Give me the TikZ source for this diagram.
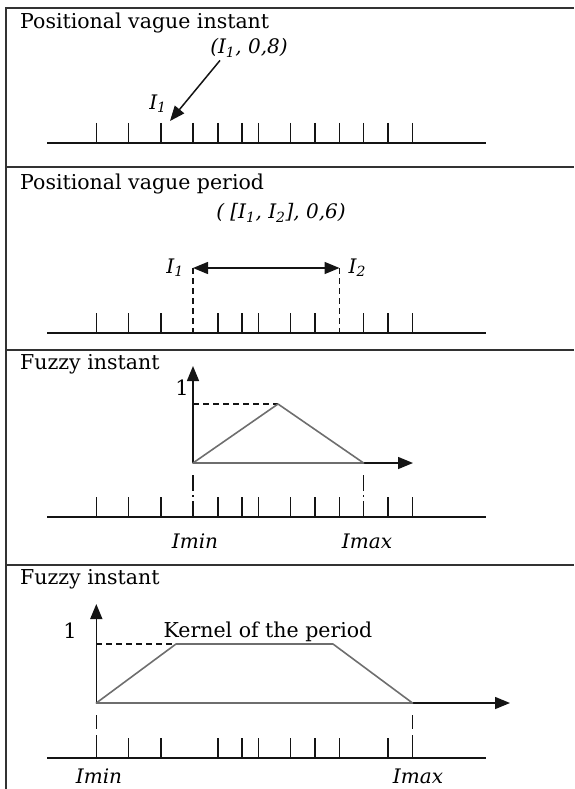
\documentclass[tikz,border=0pt]{standalone}
\usepackage{fontspec}
\setmainfont{DejaVu Serif}
\usepackage{tikz}
\usetikzlibrary{positioning,arrows.meta,calc}
\definecolor{inkline}{RGB}{20,20,20}
\definecolor{fuzzline}{RGB}{110,110,110}
\definecolor{framecol}{RGB}{50,50,50}

\begin{document}
\begin{tikzpicture}[x=1pt, y=-1pt,
  title/.style={anchor=base west, inner sep=0pt, font=\fontsize{20.5}{23}\selectfont},
  lbl/.style={inner sep=1pt, font=\fontsize{20}{22}\selectfont\itshape},
  one/.style={inner sep=0pt, font=\fontsize{21}{23}\selectfont},
  axisln/.style={inkline, line width=1.6pt},
  tickln/.style={inkline, line width=1.6pt},
  dashln/.style={inkline, line width=1.5pt, dash pattern=on 6pt off 4pt},
  fuzz/.style={fuzzline, line width=1.6pt, line join=round},
  ar/.style={-{Triangle[length=15pt, width=12pt]}, inkline, line width=1.5pt},
  dar/.style={{Triangle[length=15pt, width=12pt]}-{Triangle[length=15pt, width=12pt]}, inkline, line width=1.5pt},
  sep/.style={framecol, line width=2pt},
]
\useasboundingbox (0,0) rectangle (574,789);

% frame and panel separators
\coordinate (tl) at (6,8);
\coordinate (tr) at (574,8);
\coordinate (bl) at (6,789);
\draw[sep] (bl) -- (tl) -- (tr);
\foreach \sy [count=\k] in {167,350,565} {
  \coordinate (s\k l) at (6,\sy);
  \coordinate (s\k r) at (574,\sy);
  \draw[sep] (s\k l) -- (s\k r);
}

% ---- positional vague instant
\node[title] (t1) at (20,29) {Positional vague instant};
\coordinate (a1l) at (47,143);
\coordinate (a1r) at (486,143);
\draw[axisln] (a1l) -- (a1r);
\foreach \tx in {96.5,128.5,161,193,218,242,258.3,290.5,315,339.5,363.6,388,412.5}
  \draw[tickln] (\tx,123) -- (\tx,143);
\node[lbl] (v1) at (249,48) {(I\textsubscript{1}, 0,8)};
\node[lbl] (i1) at (158,104) {I\textsubscript{1}};
\coordinate (i1tip) at (170,121);
\draw[ar] ($(v1.south)+(-29,2)$) -- (i1tip);

% ---- positional vague period
\node[title] (t2) at (20,189) {Positional vague period};
\coordinate (a2l) at (47,333);
\coordinate (a2r) at (486,333);
\draw[axisln] (a2l) -- (a2r);
\foreach \tx in {96.5,128.5,161,218,242,258.3,290.5,315,363.6,388,412.5}
  \draw[tickln] (\tx,313) -- (\tx,333);
\node[lbl] (v2) at (281,213) {( [I\textsubscript{1}, I\textsubscript{2}], 0,6)};
\coordinate (p1) at (193,268);
\coordinate (p2) at (339.5,268);
\coordinate (p1b) at (193,333);
\coordinate (p2b) at (339.5,333);
\draw[dar] (p1) -- (p2);
\draw[dashln] (p1) -- (p1b);
\draw[dashln] (p2) -- (p2b);
\node[lbl, left=8pt of p1] (j1) {I\textsubscript{1}};
\node[lbl, right=8pt of p2] (j2) {I\textsubscript{2}};

% ---- fuzzy instant
\node[title] (t3) at (20,369) {Fuzzy instant};
\coordinate (o3) at (193,463);
\coordinate (y3) at (193,366);
\coordinate (x3) at (413,463);
\coordinate (pk3) at (278,404);
\coordinate (h3) at (193,404);
\coordinate (e3) at (363.6,463);
\draw[ar] (o3) -- (y3);
\draw[ar] (o3) -- (x3);
\draw[dashln] (h3) -- (pk3);
\draw[fuzz] (o3) -- (pk3) -- (e3) -- cycle;
\node[one, left=4pt of h3, yshift=16pt] (u3) {1};
\coordinate (a3l) at (47,517);
\coordinate (a3r) at (486,517);
\draw[axisln] (a3l) -- (a3r);
\foreach \tx in {96.5,128.5,161,218,242,258.3,290.5,315,339.5,388,412.5}
  \draw[tickln] (\tx,497) -- (\tx,517);
\coordinate (m3a) at (193,475);
\coordinate (m3b) at (193,517);
\coordinate (n3a) at (363.6,475);
\coordinate (n3b) at (363.6,517);
\draw[dashln, dash pattern=on 16pt off 4pt on 2pt off 4pt] (m3a) -- (m3b);
\draw[dashln, dash pattern=on 16pt off 4pt on 2pt off 4pt] (n3a) -- (n3b);
\node[lbl] (imin3) at (195,541) {Imin};
\node[lbl] (imax3) at (367,541) {Imax};

% ---- fuzzy period
\node[title] (t4) at (20,584) {Fuzzy instant};
\coordinate (o4) at (96.3,703);
\coordinate (y4) at (96.3,604);
\coordinate (x4) at (510,703);
\coordinate (h4) at (96.3,644);
\coordinate (k1) at (176,644);
\coordinate (k2) at (333,644);
\coordinate (e4) at (412.5,703);
\draw[ar] (o4) -- (y4);
\draw[ar] (o4) -- (x4);
\draw[dashln] (h4) -- (k1);
\draw[fuzz] (o4) -- (k1) -- (k2) -- (e4) -- cycle;
\node[one] (u4) at (70,631) {1};
\node[title, anchor=base] (kr) at (268,637) {Kernel of the period};
\coordinate (a4l) at (47,758);
\coordinate (a4r) at (486,758);
\draw[axisln] (a4l) -- (a4r);
\foreach \tx in {128.5,161,218,242,258.3,290.5,315,339.5,388}
  \draw[tickln] (\tx,738) -- (\tx,758);
\coordinate (m4a) at (96.3,715);
\coordinate (m4b) at (96.3,758);
\coordinate (n4a) at (412.5,715);
\coordinate (n4b) at (412.5,758);
\draw[dashln, dash pattern=on 14pt off 6pt on 23pt] (m4a) -- (m4b);
\draw[dashln, dash pattern=on 14pt off 6pt on 23pt] (n4a) -- (n4b);
\node[lbl, anchor=base] (imin4) at (99,783) {Imin};
\node[lbl, anchor=base] (imax4) at (418,783) {Imax};
\end{tikzpicture}
\end{document}
